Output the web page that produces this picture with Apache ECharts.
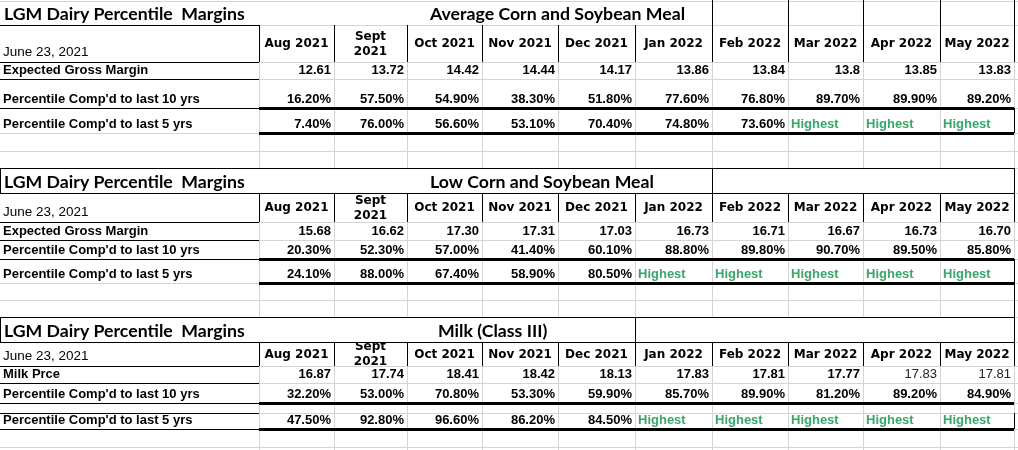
<!DOCTYPE html>
<html>
<head>
<meta charset="utf-8">
<script src="https://cdn.jsdelivr.net/npm/echarts@6/dist/echarts.min.js"></script>
<style>
  html, body { margin: 0; padding: 0; background: #fff; }
  #sheet { width: 1018px; height: 450px; }
</style>
</head>
<body>
<div id="sheet"></div>
<script>
// --- data ---
var sheetTitle = 'LGM Dairy Percentile  Margins';
var dateLabel = 'June 23, 2021';
var sectionNames = ['Average Corn and Soybean Meal', 'Low Corn and Soybean Meal', 'Milk (Class III)'];
var months = ['Aug 2021', 'Sept\n2021', 'Oct 2021', 'Nov 2021', 'Dec 2021', 'Jan 2022', 'Feb 2022', 'Mar 2022', 'Apr 2022', 'May 2022'];
var firstRowLabels = ['Expected Gross Margin', 'Expected Gross Margin', 'Milk Prce'];
var label10 = "Percentile Comp'd to last 10 yrs";
var label5 = "Percentile Comp'd to last 5 yrs";
var highestText = 'Highest';

var avgMargin = [12.61, 13.72, 14.42, 14.44, 14.17, 13.86, 13.84, 13.8, 13.85, 13.83];
var avgPct10 = [16.2, 57.5, 54.9, 38.3, 51.8, 77.6, 76.8, 89.7, 89.9, 89.2];
var avgPct5 = [7.4, 76.0, 56.6, 53.1, 70.4, 74.8, 73.6, null, null, null];

var lowMargin = [15.68, 16.62, 17.30, 17.31, 17.03, 16.73, 16.71, 16.67, 16.73, 16.70];
var lowPct10 = [20.3, 52.3, 57.0, 41.4, 60.1, 88.8, 89.8, 90.7, 89.5, 85.8];
var lowPct5 = [24.1, 88.0, 67.4, 58.9, 80.5, null, null, null, null, null];

var milkPrice = [16.87, 17.74, 18.41, 18.42, 18.13, 17.83, 17.81, 17.77, 17.83, 17.81];
var milkPct10 = [32.2, 53.0, 70.8, 53.3, 59.9, 85.7, 89.9, 81.2, 89.2, 84.9];
var milkPct5 = [47.5, 92.8, 96.6, 86.2, 84.5, null, null, null, null, null];

var sectionData = [
  [avgMargin, avgPct10, avgPct5],
  [lowMargin, lowPct10, lowPct5],
  [milkPrice, milkPct10, milkPct5]
];

// --- sheet layout (pixels of the 1018x450 page) ---
var colEdges = [0, 259, 334, 407, 482, 558, 635, 712, 788, 863, 940, 1014];
var RIGHT = 1014;
var layout = [
  { title: [0, 25], head: [25, 62], r1: [62, 79], r2: [79, 108], gap: null, r3: [108, 133], tailEnd: 133,
    nameX: 430, split: 712, boxed: false, rawMargin: true, plainCols: [] },
  { title: [168, 193], head: [193, 222], r1: [222, 240], r2: [240, 259], gap: null, r3: [259, 283], tailEnd: 317,
    nameX: 430, split: 712, boxed: true, rawMargin: false, plainCols: [] },
  { title: [317, 342], head: [342, 366], r1: [366, 383], r2: [383, 403], gap: [403, 413], r3: [413, 429], tailEnd: 429,
    nameX: 438, split: 635, boxed: true, rawMargin: false, plainCols: [8, 9], clipHead: true, underA5: true }
];
var rowBounds = [1, 25, 62, 79, 108, 133, 151, 168, 193, 222, 240, 259, 283, 300, 317, 342, 366, 383, 403, 413, 429, 447];
var titleBands = [[0, 25], [168, 193], [317, 342]];

var GRID = '#d4d4d4', INK = '#000', GREEN = '#3aa66a';
var FONT_TITLE = 'bold 17.7px Lato';
var FONT_HEAD = 'bold 12px "DejaVu Sans"';
var FONT_CELL = 'bold 13px "Liberation Sans"';
var FONT_PLAIN = '13px "Liberation Sans"';
var FONT_DATE = '13.5px "Liberation Sans"';

// --- build segments and text cells ---
var segs = [];
function seg(x1, y1, x2, y2, w, c) { segs.push({ x1: x1, y1: y1, x2: x2, y2: y2, w: w || 1, c: c || INK }); }

rowBounds.forEach(function (y) { seg(0, y, 1018, y, 1, GRID); });
for (var b = 0; b < rowBounds.length; b++) {
  var y0 = rowBounds[b], y1 = b + 1 < rowBounds.length ? rowBounds[b + 1] : 450;
  var isTitle = titleBands.some(function (t) { return t[0] <= y0 && y0 < t[1]; });
  if (isTitle) continue;
  colEdges.slice(1).forEach(function (x) { seg(x, y0, x, y1, 1, GRID); });
}

var cells = [];
function cell(x, y, text, font, align, color, clip) {
  cells.push({ x: x, y: y, text: text, font: font, align: align, color: color || '#000', clip: clip });
}

layout.forEach(function (L, s) {
  // borders
  if (L.boxed) {
    seg(0, L.title[0], RIGHT, L.title[0]);
    seg(0, L.title[1], RIGHT, L.title[1]);
    seg(0, L.title[0], 0, L.title[1]);
    seg(L.split, L.title[0], L.split, L.title[1]);
    seg(RIGHT, L.title[0], RIGHT, L.title[1]);
  } else {
    seg(0, L.head[0], colEdges[1], L.head[0]);
    colEdges.slice(7).forEach(function (x) { seg(x, L.title[0], x, L.title[1]); });
  }
  colEdges.slice(1).forEach(function (x) { seg(x, L.head[0], x, L.head[1]); });
  var underA = [L.head[1], L.r1[1], L.r2[1]];
  if (L.gap) underA.push(L.gap[1]);
  if (L.underA5) underA.push(L.r3[1]);
  underA.forEach(function (y) { seg(0, y, colEdges[1], y); });
  seg(colEdges[1], L.r2[1], RIGHT, L.r2[1], 3);
  seg(colEdges[1], L.r3[1], RIGHT, L.r3[1], 3);
  seg(RIGHT, L.r3[0], RIGHT, L.tailEnd);

  // texts
  cell(4, L.title[0] + 14, sheetTitle, FONT_TITLE, 'left');
  cell(L.nameX, L.title[0] + 14, sectionNames[s], FONT_TITLE, 'left');
  cell(3, L.head[1] - 9.5, dateLabel, FONT_DATE, 'left');
  var headClip = L.clipHead ? [colEdges[1], L.head[0], RIGHT, L.head[1]] : null;
  months.forEach(function (m, i) {
    var cx = (colEdges[i + 1] + colEdges[i + 2]) / 2;
    cell(cx, (L.head[0] + L.head[1]) / 2 + 0.5, m, FONT_HEAD, 'center', '#000', headClip);
  });
  var rows = [L.r1, L.r2, L.r3];
  var labels = [firstRowLabels[s], label10, label5];
  rows.forEach(function (r, k) {
    cell(3, r[1] - 9, labels[k], FONT_CELL, 'left');
    sectionData[s][k].forEach(function (v, i) {
      var ty = r[1] - 9;
      if (v === null) {
        cell(colEdges[i + 1] + 3, ty, highestText, FONT_CELL, 'left', GREEN);
        return;
      }
      var txt = k === 0 ? (L.rawMargin ? String(v) : v.toFixed(2)) : v.toFixed(2) + '%';
      var plain = k === 0 && L.plainCols.indexOf(i) >= 0;
      cell(colEdges[i + 2] - 3, ty, txt, plain ? FONT_PLAIN : FONT_CELL, 'right', plain ? '#222' : '#000');
    });
  });
});

var chart = echarts.init(document.getElementById('sheet'));
var option = {
  animation: false,
  grid: { left: 0, right: 0, top: 0, bottom: 0 },
  xAxis: { type: 'value', min: 0, max: 1018, show: false },
  yAxis: { type: 'value', min: 0, max: 450, inverse: true, show: false },
  series: [
    {
      type: 'custom',
      coordinateSystem: 'cartesian2d',
      silent: true,
      data: segs.map(function (g) { return [g.x1, g.y1, g.x2, g.y2]; }),
      renderItem: function (params, api) {
        var g = segs[params.dataIndex];
        var a = api.coord([g.x1, g.y1]), b = api.coord([g.x2, g.y2]);
        var off = g.w % 2 ? 0.5 : 0;
        var horiz = g.y1 === g.y2;
        return {
          type: 'line',
          shape: horiz
            ? { x1: a[0], y1: a[1] + off, x2: b[0], y2: b[1] + off }
            : { x1: a[0] + off, y1: a[1], x2: b[0] + off, y2: b[1] },
          style: { stroke: g.c, lineWidth: g.w }
        };
      }
    },
    {
      type: 'custom',
      coordinateSystem: 'cartesian2d',
      silent: true,
      data: cells.map(function (c) { return [c.x, c.y]; }),
      renderItem: function (params, api) {
        var c = cells[params.dataIndex];
        var p = api.coord([c.x, c.y]);
        var txt = {
          type: 'text', x: p[0], y: p[1],
          style: { text: c.text, font: c.font, fill: c.color, align: c.align, verticalAlign: 'middle', lineHeight: 15 }
        };
        if (!c.clip) return txt;
        var a = api.coord([c.clip[0], c.clip[1]]), b = api.coord([c.clip[2], c.clip[3]]);
        return {
          type: 'group',
          clipPath: { type: 'rect', shape: { x: a[0], y: a[1], width: b[0] - a[0], height: b[1] - a[1] } },
          children: [txt]
        };
      }
    }
  ]
};
chart.setOption(option);
</script>
</body>
</html>
